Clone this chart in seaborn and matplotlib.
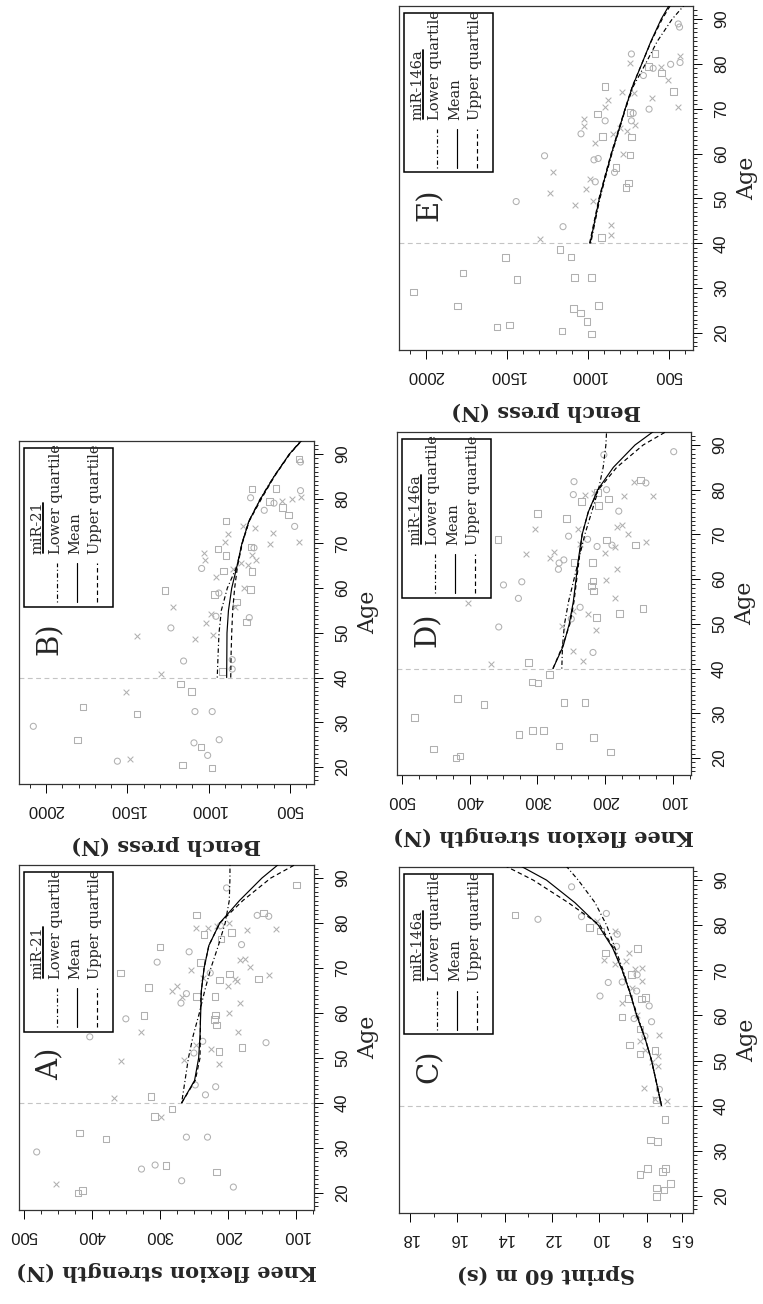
import matplotlib
matplotlib.use("Agg")
import matplotlib.pyplot as plt
from matplotlib.patches import Rectangle
import seaborn as sns
import pandas as pd

sns.set_theme(style="white")
plt.rcParams["font.family"] = ["Liberation Sans", "DejaVu Sans"]
plt.rcParams["lines.scale_dashes"] = False

GRAY = "#b0b0b0"

# ---------------- data: knee flexion strength (panels A and D) ----------------
knee_age = [29.1, 22.0, 20.0, 20.5, 33.3, 32.0, 25.3, 26.2, 26.1, 22.7,
            32.4, 32.4, 24.6, 21.3, 37.0, 36.8, 38.7,
            41.4, 41.0, 54.7, 49.3, 58.7, 55.7, 59.4, 65.7, 68.9, 74.7,
            71.3, 73.6, 64.8, 66.1, 63.6, 62.2, 64.3, 69.6, 81.8, 78.9,
            78.9, 77.4, 71.2, 63.7, 67.8, 68.9, 87.8, 88.5, 81.7, 82.2,
            81.5, 78.5, 78.7, 77.9, 75.2, 71.7, 72.1, 70.2, 67.6, 68.4,
            68.7, 67.6, 67.2, 65.9, 67.3, 76.5, 79.4, 80.0, 63.7, 62.2,
            59.9, 59.6, 58.5, 57.3, 55.7, 53.4, 52.3, 51.4, 52.1, 48.6,
            43.6, 41.8, 44.0, 53.7, 52.8, 49.5, 51.1, 79.3]
knee_val = [481, 453, 420, 414, 418, 379, 327, 307, 291, 268,
            261, 230, 217, 192, 308, 299, 282,
            313, 368, 403, 357, 350, 328, 323, 317, 358, 300,
            304, 257, 282, 275, 268, 269, 261, 254, 246, 247,
            230, 235, 240, 246, 237, 226, 202, 99, 157, 148,
            140, 172, 130, 195, 180, 182, 175, 167, 155, 140,
            198, 190, 186, 200, 212, 210, 211, 198, 219, 182,
            199, 218, 220, 217, 185, 144, 179, 213, 225, 213,
            218, 233, 248, 237, 247, 264, 250, 216]
knee_mark_mir21 = ("oxssssoosooososxs"
                   "sxoxoxssss" "ooxxxooxsx" "xsssxoosos" "oxxsoxxxsx"
                   "sxxxssoxsx" "xsssxossxx" "ooooxxox")
knee_mark_mir146a = ("sssssssssssssssss"
                     "sxxooooxss" "xsxxoooooo" "xsxsxoooxs" "oxxsoxxxsx"
                     "soxxossosx" "xsssxsssxx" "oxxoxxox")

# ---------------- data: bench press (panels B and E) ----------------
bench_age = [29.1, 26.0, 33.4, 31.9, 36.8, 21.3, 21.8, 38.6, 36.9, 32.4,
             32.4, 26.1, 25.4, 24.5, 22.6, 20.4, 19.8,
             40.9, 49.3, 43.7, 51.1, 55.8, 59.5, 48.6, 52.2, 49.5, 54.3,
             53.7, 64.4, 67.8, 66.2, 58.6, 58.9, 62.4, 68.8, 67.3, 70.3,
             72.0, 75.0, 64.3, 63.8, 56.9, 55.8, 44.0, 41.9, 41.3, 73.8,
             65.1, 63.7, 59.7, 60.0, 52.4, 53.4, 69.2, 69.0, 67.3, 66.3,
             82.2, 80.2, 82.3, 77.4, 79.4, 79.0, 79.4, 78.0, 76.3, 73.8,
             79.9, 80.3, 81.8, 70.3, 69.9, 72.3, 88.9, 88.2, 73.5, 65.6]
bench_val = [2078, 1805, 1771, 1439, 1508, 1561, 1484, 1174, 1105, 1084,
             978, 935, 1090, 1047, 1006, 1160, 978,
             1293, 1443, 1154, 1232, 1217, 1268, 1082, 1014, 971, 986,
             955, 1043, 1027, 1023, 963, 937, 955, 941, 894, 898,
             879, 894, 848, 910, 828, 836, 855, 855, 916, 791,
             758, 732, 742, 781, 766, 750, 740, 721, 732, 709,
             732, 742, 586, 658, 627, 598, 551, 545, 508, 471,
             490, 432, 435, 443, 623, 607, 443, 435, 715, 803]
bench_mark_mir21 = ("osssxoxssoooososs"
                    "xxooxsxxxx" "ooxxsoxssx" "xsxssxoosx" "xssxsosoxx"
                    "sososoxsso" "xxoxxxsoxx")
bench_mark_mir146a = ("sssssssssssssssss"
                      "xooxxoxxxx" "ooxxooxsox" "xsxssoxxsx" "xssxsssoox"
                      "oxsosoxsxs" "ooxxoxooxx")

# ---------------- data: sprint 60 m (panel C) ----------------
sprint_age = [36.9, 32.4, 32.1, 24.7, 26.1, 25.4, 26.1, 19.9, 21.7, 21.3, 22.7,
              82.3, 81.3, 88.5, 82.6, 79.5, 81.9, 81.0, 78.7, 78.7, 78.0,
              75.3, 73.8, 72.2, 71.5, 74.8, 73.8, 72.1, 70.2, 67.3, 64.3,
              67.4, 62.7, 59.7, 59.3, 63.7, 57.0, 58.6, 55.4, 62.1, 63.6,
              55.6, 53.4, 54.3, 51.5, 52.4, 52.2, 51.0, 49.6, 48.7, 43.9,
              43.6, 41.5, 41.0, 69.1, 67.6, 65.4, 66.0, 69.0, 70.5, 64.0,
              60.0, 41.3]
sprint_val = [7.22, 7.83, 7.55, 8.28, 7.97, 7.32, 7.20, 7.58, 7.58, 7.27, 6.99,
              13.56, 12.59, 11.17, 9.70, 10.42, 10.75, 10.11, 9.94, 9.34, 9.24,
              9.27, 9.73, 9.80, 9.34, 8.38, 8.73, 8.87, 8.49, 9.62, 9.97,
              9.03, 9.06, 9.03, 8.53, 8.77, 8.28, 7.79, 8.07, 7.89, 8.21,
              7.46, 8.72, 8.28, 8.28, 8.07, 7.65, 7.51, 7.79, 7.51, 8.10,
              7.46, 7.63, 7.13, 8.63, 8.21, 8.42, 8.60, 8.40, 8.20, 8.05,
              8.40, 7.60]
sprint_mark_mir146a = ("sssssssssss"
                       "sooosoxsxo" "osxxsxxxoo" "oxsossooos" "xsxsxsxxxx"
                       "oxxsxoxoxs" "xs")

# ---------------- fitted curves (age 40 onward) ----------------
curve_age = [40, 45, 50, 55, 60, 65, 70, 75, 80, 85, 90, 93]
A_lower = [268, 263, 258, 251, 242, 234, 225, 214, 204, 198, 197, 197]
A_mean = [268, 249, 243, 241, 240, 239, 235, 228, 212, 183, 150, 126]
A_upper = [268, 248, 241, 240.5, 240.5, 239, 235, 228, 212, 178, 137, 101]
B_lower = [947, 942, 936, 922, 885, 825, 795, 752, 682, 598, 503, 432]
B_mean = [889, 888, 887, 878, 858, 825, 795, 752, 680, 597, 503, 428]
B_upper = [864, 862, 858, 852, 840, 822, 793, 750, 675, 595, 500, 428]
C_lower = [7.37, 7.58, 7.79, 8.07, 8.39, 8.70, 8.99, 9.34, 9.69, 10.18, 10.89, 11.38]
C_mean = [7.37, 7.58, 7.79, 8.07, 8.42, 8.70, 9.03, 9.44, 10.04, 11.03, 12.23, 13.28]
C_upper = [7.37, 7.58, 7.79, 8.07, 8.42, 8.70, 9.03, 9.41, 9.97, 11.31, 12.79, 13.92]
D_lower = [264, 263, 260, 254, 246, 238, 230, 220, 210, 203, 199, 198]
D_mean = [277, 262, 253, 247, 243, 239, 234, 225, 211, 188, 156, 129]
D_upper = [277, 263, 252, 246, 242, 238, 234, 225, 210, 183, 144, 110]
E_lower = [983, 955, 926, 890, 852, 810, 768, 720, 645, 573, 480, 408]
E_mean = [987, 958, 930, 893, 855, 812, 770, 725, 668, 612, 548, 500]
E_upper = [990, 961, 932, 895, 857, 814, 771, 726, 668, 610, 542, 492]

# ---------------- ticks / labels ----------------
age_ticks = [20, 30, 40, 50, 60, 70, 80, 90]
knee_ticks = [500, 400, 300, 200, 100]
bench_ticks = [2000, 1500, 1000, 500]
sprint_ticks = [18, 16, 14, 12, 10, 8, 6.5]
sprint_tick_labels = ["18", "16", "14", "12", "10", "8", "6.5"]
legend_labels = ["Lower quartile", "Mean", "Upper quartile"]

W, H = 763, 1304
fig = plt.figure(figsize=(W / 100, H / 100), dpi=100)
fig.patch.set_facecolor("white")

line_styles = [(0, (0.8, 1.8, 3.2, 1.8)), "-", (0, (3.2, 2.2))]
title_texts = []


def draw_panel(rect, ages, vals, marks, curves, xlim, xt, xtl, xminor,
               ylabel, title, letter):
    x0, y0, x1, y1 = rect
    wpx, hpx = x1 - x0, y1 - y0
    ax = fig.add_axes([x0 / W, 1 - y1 / H, wpx / W, hpx / H])
    df = pd.DataFrame({"value": vals, "age": ages, "marker": list(marks)})
    for m, s in [("s", 22), ("o", 19), ("x", 17)]:
        sub = df[df["marker"] == m]
        if sub.empty:
            continue
        if m == "x":
            sns.scatterplot(data=sub, x="value", y="age", marker="x", s=s,
                            color=GRAY, linewidth=0.75, ax=ax, legend=False,
                            zorder=2)
        else:
            sns.scatterplot(data=sub, x="value", y="age", marker=m, s=s,
                            color=GRAY, edgecolor=GRAY, linewidth=0.75,
                            ax=ax, legend=False, zorder=2)
            ax.collections[-1].set_facecolor("none")
    ax.axhline(40, color="#c4c4c4", lw=0.8, ls=(0, (3.5, 2.5)), zorder=1)
    for cv, ls in zip(curves, line_styles):
        sns.lineplot(x=cv, y=curve_age, sort=False, estimator=None,
                     color="black", lw=0.85, linestyle=ls, ax=ax,
                     legend=False, zorder=3)
    ax.set_xlim(*xlim)
    ax.set_ylim(16.2, 92.9)
    ax.set_xlabel("")
    ax.set_ylabel("")

    ax.yaxis.tick_right()
    ax.set_yticks(age_ticks, [str(a) for a in age_ticks])
    ax.set_yticks([a for a in range(17, 93) if a % 10], minor=True)
    ax.set_xticks(xt, xtl)
    ax.set_xticks(xminor, minor=True)
    ax.tick_params(axis="both", which="major", direction="out", length=6.8,
                   width=0.7, color="black", labelsize=12,
                   labelcolor="#1a1a1a")
    ax.tick_params(axis="both", which="minor", direction="out", length=3.2,
                   width=0.6, color="black")
    ax.tick_params(axis="x", which="both", bottom=True, top=False)
    ax.tick_params(axis="y", which="both", right=True, left=False)
    ax.tick_params(axis="x", which="major", labelrotation=180, pad=6.5)
    ax.tick_params(axis="y", which="major", labelrotation=90, pad=8.3)
    for lbl in ax.get_yticklabels():
        lbl.set_va("center")
    for sp in ax.spines.values():
        sp.set_visible(True)
        sp.set_color("#333333")
        sp.set_linewidth(0.9)

    ax.text(1 + 54 / wpx, 0.5, "Age", transform=ax.transAxes, rotation=90,
            ha="center", va="center", fontsize=16, family="DejaVu Serif")
    ax.text(0.5, -61 / hpx, ylabel, transform=ax.transAxes, rotation=180,
            ha="center", va="center", fontsize=15, family="DejaVu Serif",
            weight="bold")
    ax.text(0.105, 0.423, letter, transform=ax.transAxes, rotation=90,
            ha="center", va="center", fontsize=21, family="DejaVu Serif")

    # legend (drawn rotated like the rest of the figure)
    ax.add_patch(Rectangle((0.017, 0.516), 0.302, 0.464,
                           transform=ax.transAxes, facecolor="white",
                           edgecolor="black", lw=1.1, zorder=5))
    t = ax.text(0.064, 0.670, title, transform=ax.transAxes, rotation=90,
                rotation_mode="anchor", ha="left", va="center",
                fontsize=10.5, family="DejaVu Serif", zorder=6)
    title_texts.append((ax, t))
    for fx_l, fx_t, lab, ls in zip([0.130, 0.198, 0.265],
                                   [0.124, 0.191, 0.259],
                                   legend_labels, line_styles):
        ax.plot([fx_l, fx_l], [0.530, 0.643], transform=ax.transAxes,
                color="black", lw=0.85, linestyle=ls, zorder=6)
        ax.text(fx_t, 0.670, lab, transform=ax.transAxes, rotation=90,
                rotation_mode="anchor", ha="left", va="center",
                fontsize=10.5, family="DejaVu Serif", zorder=6)
    return ax


knee_minor = [v for v in range(75, 501, 25) if v % 100]
bench_minor = [v for v in range(400, 2101, 100) if v % 500]
sprint_minor = [7, 9, 11, 13, 15, 17]

draw_panel((19, 865, 314, 1210), knee_age, knee_val, knee_mark_mir21,
           [A_lower, A_mean, A_upper], (507, 73.5), knee_ticks,
           [str(v) for v in knee_ticks], knee_minor,
           "Knee flexion strength (N)", "miR-21", "A)")
draw_panel((19, 441, 314, 784), bench_age, bench_val, bench_mark_mir21,
           [B_lower, B_mean, B_upper], (2166, 352), bench_ticks,
           [str(v) for v in bench_ticks], bench_minor,
           "Bench press (N)", "miR-21", "B)")
draw_panel((399, 867, 693, 1213), sprint_age, sprint_val, sprint_mark_mir146a,
           [C_lower, C_mean, C_upper], (18.46, 6.04), sprint_ticks,
           sprint_tick_labels, sprint_minor,
           "Sprint 60 m (s)", "miR-146a", "C)")
draw_panel((397, 432, 691, 775), knee_age, knee_val, knee_mark_mir146a,
           [D_lower, D_mean, D_upper], (507, 73.5), knee_ticks,
           [str(v) for v in knee_ticks], knee_minor,
           "Knee flexion strength (N)", "miR-146a", "D)")
draw_panel((399, 6, 693, 350), bench_age, bench_val, bench_mark_mir146a,
           [E_lower, E_mean, E_upper], (2166, 352), bench_ticks,
           [str(v) for v in bench_ticks], bench_minor,
           "Bench press (N)", "miR-146a", "E)")

# underline legend titles
fig.canvas.draw()
renderer = fig.canvas.get_renderer()
for ax, t in title_texts:
    bb = t.get_window_extent(renderer)
    inv = ax.transAxes.inverted()
    cx = (bb.x0 + bb.x1) / 2 + 5
    (ax_x, ax_y0) = inv.transform((cx, bb.y0 + 1))
    (_, ax_y1) = inv.transform((cx, bb.y1 - 1))
    ax.plot([ax_x, ax_x], [ax_y0, ax_y1], transform=ax.transAxes,
            color="black", lw=1.3, zorder=7)

fig.savefig("out.png", dpi=100, facecolor="white")
